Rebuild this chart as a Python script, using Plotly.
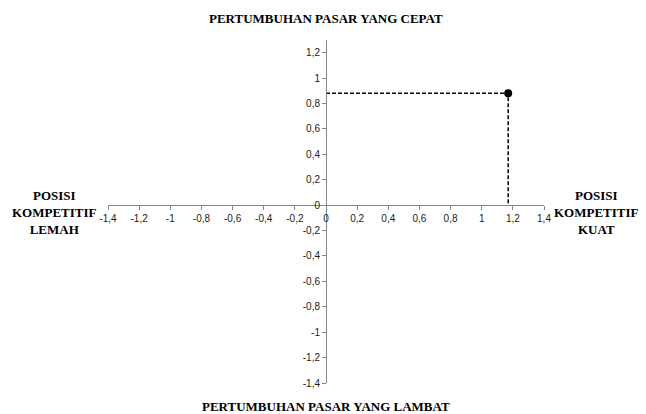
import plotly.graph_objects as go

# Data
point_x = [1.17]
point_y = [0.88]
x_ticks = [-1.4, -1.2, -1.0, -0.8, -0.6, -0.4, -0.2, 0, 0.2, 0.4, 0.6, 0.8, 1.0, 1.2, 1.4]
x_ticklabels = ["-1,4", "-1,2", "-1", "-0,8", "-0,6", "-0,4", "-0,2", "0", "0,2", "0,4", "0,6", "0,8", "1", "1,2", "1,4"]
y_ticks = [-1.4, -1.2, -1.0, -0.8, -0.6, -0.4, -0.2, 0, 0.2, 0.4, 0.6, 0.8, 1.0, 1.2]
y_ticklabels = ["-1,4", "-1,2", "-1", "-0,8", "-0,6", "-0,4", "-0,2", "0", "0,2", "0,4", "0,6", "0,8", "1", "1,2"]
x_range = [-1.4, 1.4]
y_range = [-1.4, 1.3]
title_top = "PERTUMBUHAN PASAR YANG CEPAT"
title_bottom = "PERTUMBUHAN PASAR YANG LAMBAT"
label_left = "POSISI<br>KOMPETITIF<br>LEMAH"
label_right = "POSISI<br>KOMPETITIF<br>KUAT"

fig = go.Figure()

# dashed guide lines from point to axes
fig.add_trace(go.Scatter(
    x=[0, point_x[0], point_x[0]], y=[point_y[0], point_y[0], 0],
    mode="lines", line=dict(color="black", width=1.5, dash="4px,2px"),
    hoverinfo="skip", showlegend=False))
fig.add_trace(go.Scatter(
    x=point_x, y=point_y, mode="markers",
    marker=dict(color="black", size=8), showlegend=False))

y_pos = (0 - y_range[0]) / (y_range[1] - y_range[0])
x_pos = (0 - x_range[0]) / (x_range[1] - x_range[0])

tickfont = dict(family="Liberation Sans Narrow, Liberation Sans, Arial", size=10, color="#1a1a1a")
fig.update_layout(
    width=646, height=414,
    margin=dict(l=108, r=102, t=40, b=31),
    plot_bgcolor="white", paper_bgcolor="white",
    xaxis=dict(range=x_range, tickvals=x_ticks, ticktext=x_ticklabels,
               showgrid=False, zeroline=False, showline=True, linecolor="#868686", linewidth=1,
               ticks="outside", ticklen=4, tickcolor="#868686",
               anchor="free", position=y_pos, tickfont=tickfont, domain=[0, 1]),
    yaxis=dict(range=y_range, tickvals=y_ticks, ticktext=y_ticklabels,
               showgrid=False, zeroline=False, showline=True, linecolor="#868686", linewidth=1,
               ticks="outside", ticklen=4, tickcolor="#868686",
               anchor="free", position=x_pos, tickfont=tickfont, domain=[0, 1]),
)

tfont = dict(family="Liberation Serif, Times New Roman, serif", size=13, color="black")
fig.add_annotation(text="<b>%s</b>" % title_top, xref="paper", yref="paper",
                   x=0.5, y=1, yshift=22, showarrow=False, font=tfont, yanchor="middle")
fig.add_annotation(text="<b>%s</b>" % title_bottom, xref="paper", yref="paper",
                   x=0.5, y=0, yshift=-23, showarrow=False, font=tfont, yanchor="middle")
fig.add_annotation(text="<b>%s</b>" % label_left, xref="paper", yref="paper",
                   x=0, xshift=-54, y=y_pos, yshift=-7, showarrow=False, font=tfont,
                   xanchor="center", yanchor="middle", align="center")
fig.add_annotation(text="<b>%s</b>" % label_right, xref="paper", yref="paper",
                   x=1, xshift=52, y=y_pos, yshift=-7, showarrow=False, font=tfont,
                   xanchor="center", yanchor="middle", align="center")

fig.write_html("out.html", config={"displayModeBar": False},
               post_script="document.body.style.margin='0';document.body.style.overflow='hidden';")
